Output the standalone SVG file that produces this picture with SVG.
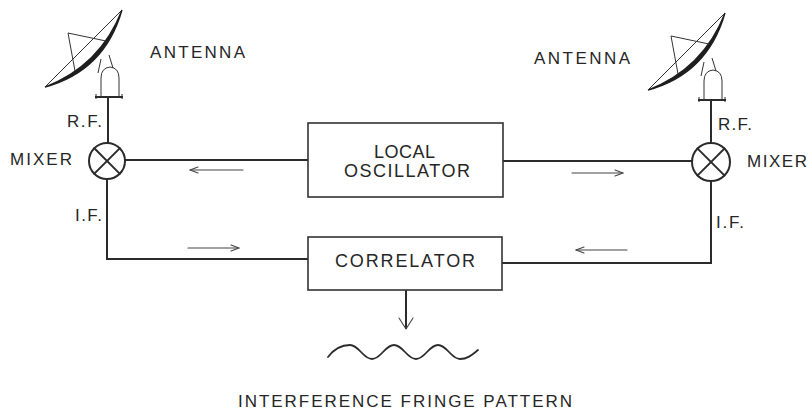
<svg xmlns="http://www.w3.org/2000/svg" width="809" height="412" viewBox="0 0 809 412">
  <defs>
    <style>
      .wire { stroke: #2b2b2b; stroke-width: 2; fill: none; stroke-linecap: square; }
      .box { stroke: #333; stroke-width: 1.6; fill: #fff; }
      .thin { stroke: #333; stroke-width: 1; fill: none; }
      .flow { stroke: #444; stroke-width: 1.1; fill: none; stroke-linecap: round; stroke-linejoin: round; }
      .lbl { font-family: "Liberation Sans", Arial, sans-serif; font-size: 17px; fill: #262626; }
      .big { font-size: 18px; }
    </style>
    <!-- radio telescope: dish, feed legs, yoke and pedestal -->
    <g id="antenna-shape">
      <line class="thin" x1="45" y1="87" x2="122" y2="10"/>
      <path d="M45,87 Q100.5,65.5 122,10 Q104.5,71 45,87 Z" fill="#1e1e1e" stroke="#1e1e1e" stroke-width="1.3"/>
      <polyline class="thin" points="106,41 68,33 75,71"/>
      <line class="thin" x1="101" y1="59" x2="98" y2="73"/>
      <line class="thin" x1="109" y1="55" x2="113" y2="68"/>
      <path class="thin" d="M101,97 L101,78 Q101,68 110,67 Q119,68 119,78 L119,97" stroke-width="1.3"/>
      <line x1="95" y1="97" x2="123" y2="97" stroke="#2b2b2b" stroke-width="2"/>
      <line x1="96" y1="94" x2="96" y2="99" stroke="#2b2b2b" stroke-width="1"/>
      <line x1="122" y1="94" x2="122" y2="99" stroke="#2b2b2b" stroke-width="1"/>
    </g>
  </defs>

  <rect width="809" height="412" fill="#fff"/>

  <!-- connectors -->
  <g id="connectors">
    <line class="wire" x1="108" y1="97" x2="108" y2="143"/>
    <line class="wire" x1="711" y1="100" x2="711" y2="143"/>
    <line class="wire" x1="125" y1="160" x2="308" y2="160"/>
    <line class="wire" x1="503" y1="161" x2="692" y2="161"/>
    <polyline class="wire" points="107,179 107,259 308,259"/>
    <polyline class="wire" points="711,181 711,263 502,263"/>
    <line class="wire" x1="406" y1="290" x2="406" y2="328" stroke-width="1.5"/>
    <polyline class="flow" points="399,318 406,329 413,318" stroke-width="1.5"/>

    <!-- signal direction arrows -->
    <g class="flow">
      <line x1="190" y1="170" x2="243" y2="170"/>
      <polyline points="198,167 190,170 198,173"/>
      <line x1="188" y1="248" x2="239" y2="248"/>
      <polyline points="231,245 239,248 231,251"/>
      <line x1="572" y1="173" x2="623" y2="173"/>
      <polyline points="615,170 623,173 615,176"/>
      <line x1="576" y1="250" x2="627" y2="250"/>
      <polyline points="584,247 576,250 584,253"/>
    </g>
  </g>

  <!-- left antenna -->
  <g id="antenna-left">
    <use href="#antenna-shape"/>
    <text class="lbl" x="150" y="58" textLength="95" lengthAdjust="spacing">ANTENNA</text>
    <text class="lbl" x="67" y="127" textLength="35" lengthAdjust="spacing">R.F.</text>
  </g>

  <!-- right antenna -->
  <g id="antenna-right">
    <use href="#antenna-shape" transform="translate(603,3)"/>
    <text class="lbl" x="534" y="64" textLength="96" lengthAdjust="spacing">ANTENNA</text>
    <text class="lbl" x="718" y="130" textLength="34" lengthAdjust="spacing">R.F.</text>
  </g>

  <!-- mixers -->
  <g id="mixer-left">
    <circle cx="107" cy="161" r="18" fill="#fff" stroke="#2b2b2b" stroke-width="2"/>
    <line class="wire" x1="94.3" y1="148.3" x2="119.7" y2="173.7" stroke-width="1.6"/>
    <line class="wire" x1="119.7" y1="148.3" x2="94.3" y2="173.7" stroke-width="1.6"/>
    <text class="lbl" x="10" y="165" textLength="62" lengthAdjust="spacing">MIXER</text>
    <text class="lbl" x="75" y="221" textLength="27" lengthAdjust="spacing">I.F.</text>
  </g>

  <g id="mixer-right">
    <circle cx="711" cy="162" r="19" fill="#fff" stroke="#2b2b2b" stroke-width="2"/>
    <line class="wire" x1="697.6" y1="148.6" x2="724.4" y2="175.4" stroke-width="1.6"/>
    <line class="wire" x1="724.4" y1="148.6" x2="697.6" y2="175.4" stroke-width="1.6"/>
    <text class="lbl" x="747" y="167" textLength="60" lengthAdjust="spacing">MIXER</text>
    <text class="lbl" x="716" y="228" textLength="28" lengthAdjust="spacing">I.F.</text>
  </g>

  <!-- local oscillator -->
  <g id="local-oscillator">
    <rect class="box" x="308" y="123" width="195" height="74"/>
    <text class="lbl big" x="374" y="158" textLength="61" lengthAdjust="spacing">LOCAL</text>
    <text class="lbl big" x="344" y="177" textLength="126" lengthAdjust="spacing">OSCILLATOR</text>
  </g>

  <!-- correlator -->
  <g id="correlator">
    <rect class="box" x="308" y="237" width="194" height="53"/>
    <text class="lbl big" x="335" y="267" textLength="140" lengthAdjust="spacing">CORRELATOR</text>
  </g>

  <!-- output fringes -->
  <g id="fringe-pattern">
    <path d="M328,357 C334,349 342,345 350,345 C359,345 363,359 372,359 C381,359 385,345 394,345 C403,345 407,359 416,359 C425,359 429,345 438,345 C447,345 451,359 460,359 C468,359 473,354 478,350" fill="none" stroke="#2b2b2b" stroke-width="1.8" stroke-linecap="round"/>
    <text class="lbl" x="238" y="407" textLength="334" lengthAdjust="spacing">INTERFERENCE FRINGE PATTERN</text>
  </g>
</svg>
